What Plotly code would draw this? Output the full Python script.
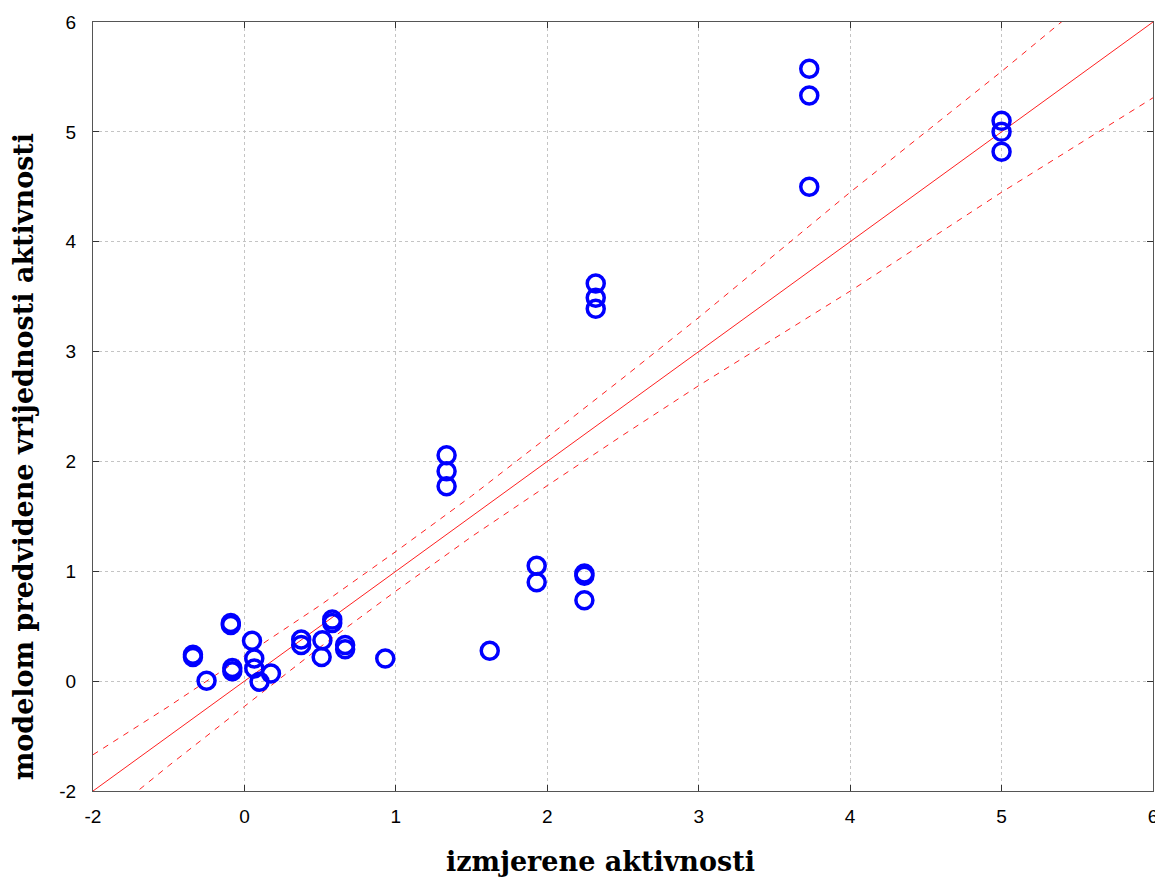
import plotly.graph_objects as go

measured = [5.0, 5.0, 5.0,
            3.73, 3.73, 3.73,
            2.32, 2.32, 2.32,
            1.335, 1.335, 1.335,
            1.93, 1.93,
            2.245, 2.245, 2.245,
            1.62, 0.93,
            -0.34, -0.34, -0.25, -0.09, -0.09, -0.08, -0.08,
            0.05, 0.065, 0.065, 0.10, 0.175,
            0.375, 0.375, 0.515, 0.51, 0.58, 0.58, 0.665, 0.665]
predicted = [5.10, 5.00, 4.82,
             5.575, 5.33, 4.50,
             3.62, 3.49, 3.39,
             2.056, 1.91, 1.774,
             1.05, 0.90,
             0.98, 0.96, 0.737,
             0.276, 0.206,
             0.24, 0.22, 0.003, 0.53, 0.51, 0.12, 0.09,
             0.367, 0.206, 0.115, -0.006, 0.07,
             0.38, 0.33, 0.373, 0.22, 0.56, 0.53, 0.33, 0.29]

# fitted line and 95% confidence band
fit_x = [-1, 6]
fit_y = [-1, 6]
band_x = [-1, -0.5, 0, 0.5, 1, 1.5, 2, 2.5, 3, 3.5, 4, 4.5, 5, 5.5, 6]
band_upper = [-0.67, -0.23, 0.23, 0.69, 1.18, 1.685, 2.22, 2.76, 3.31,
              3.88, 4.45, 5.0, 5.55, 6.12, 6.69]
band_lower = [-1.33, -0.77, -0.23, 0.31, 0.82, 1.315, 1.78, 2.24, 2.69,
              3.12, 3.55, 4.0, 4.45, 4.88, 5.31]

tick_vals = [-1, 0, 1, 2, 3, 4, 5, 6]
tick_text = ["-2", "0", "1", "2", "3", "4", "5", "6"]

fig = go.Figure()

fig.add_trace(go.Scatter(x=band_x, y=band_upper, mode="lines",
                         line=dict(color="#ff2020", width=1, dash="6px,6px"),
                         showlegend=False))
fig.add_trace(go.Scatter(x=band_x, y=band_lower, mode="lines",
                         line=dict(color="#ff2020", width=1, dash="6px,6px"),
                         showlegend=False))
fig.add_trace(go.Scatter(x=fit_x, y=fit_y, mode="lines",
                         line=dict(color="#ff2020", width=1),
                         showlegend=False))
fig.add_trace(go.Scatter(
    x=measured, y=predicted, mode="markers",
    marker=dict(symbol="circle-open", size=17, color="#0000ff",
                line=dict(color="#0000ff", width=3.5)),
    showlegend=False,
))

axis_style = dict(
    range=[-1, 6],
    tickvals=tick_vals,
    ticktext=tick_text,
    ticks="inside",
    ticklen=6,
    tickcolor="#333333",
    showline=True,
    linecolor="#555555",
    linewidth=1,
    mirror="ticks",
    showgrid=True,
    gridcolor="#c4c4c4",
    griddash="dot",
    gridwidth=1,
    zeroline=False,
    automargin=False,
    tickfont=dict(family="Liberation Sans, Arial", size=19, color="#000000"),
)

fig.update_xaxes(**axis_style, ticklabelstandoff=8)
fig.update_yaxes(**axis_style, ticklabelstandoff=12)

title_font = dict(family="DejaVu Serif", size=27,
                  color="#000000", weight="bold")

fig.update_layout(
    width=1155,
    height=878,
    margin=dict(l=85, r=10, t=14, b=95),
    plot_bgcolor="white",
    paper_bgcolor="white",
    annotations=[
        dict(text="izmjerene aktivnosti", xref="paper", yref="paper",
             x=0.479, y=-0.092, showarrow=False, font=title_font,
             xanchor="center", yanchor="middle"),
        dict(text="modelom predvidene vrijednosti aktivnosti", xref="paper",
             yref="paper", x=-0.066, y=0.434, showarrow=False,
             font=title_font, textangle=-90,
             xanchor="center", yanchor="middle"),
    ],
)

fig.write_html("out.html")
